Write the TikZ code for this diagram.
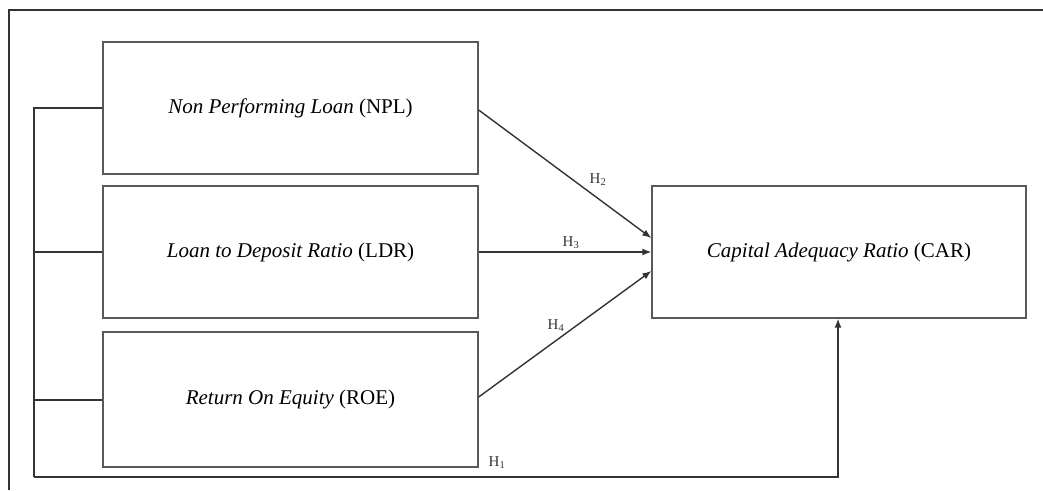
\documentclass[tikz,border=0pt]{standalone}
\usepackage{fontspec}
\setmainfont{Liberation Serif}
\usetikzlibrary{arrows.meta}
\begin{document}
\begin{tikzpicture}[x=1pt,y=-1pt,
  box/.style={draw=black!65,line width=1.3pt,rectangle,minimum width=375pt,minimum height=132pt,inner sep=0pt,font=\fontsize{21}{24}\selectfont},
  ln/.style={draw=black!80,line width=1.4pt},
  arr/.style={ln,-{Latex[length=9pt,width=7pt]}},
  hl/.style={font=\fontsize{15}{17}\selectfont,inner sep=1pt,text=black!80}]
\useasboundingbox (0,0) rectangle (1043,490);
\draw[ln] (9,490) -- (9,10) -- (1043,10);
\node[box] (npl) at (290.5,108) {\textit{Non Performing Loan} (NPL)};
\node[box] (ldr) at (290.5,252) {\textit{Loan to Deposit Ratio} (LDR)};
\node[box,minimum height=135pt] (roe) at (290.5,399.5) {\textit{Return On Equity} (ROE)};
\node[box,minimum width=374pt] (car) at (839,252) {\textit{Capital Adequacy Ratio} (CAR)};
\coordinate (bt) at (34,108);
\coordinate (bb) at (34,477);
\coordinate (br) at (838,477);
\draw[ln] (npl.west) -- (bt) -- (bb);
\draw[ln] (ldr.west) -- (34,252);
\draw[ln] (roe.west |- 0,400) -- (34,400);
\draw[arr] (bb) -- (br) -- (car.south -| br);
\draw[arr] (npl.east |- 0,110) -- (car.west |- 0,238);
\draw[arr] (ldr.east) -- (car.west);
\draw[arr] (roe.east |- 0,397) -- (car.west |- 0,271);
\node[hl] (h2) at (598,180) {H\textsubscript{2}};
\node[hl] (h3) at (571,243) {H\textsubscript{3}};
\node[hl] (h4) at (556,326) {H\textsubscript{4}};
\node[hl] (h1) at (497,463) {H\textsubscript{1}};
\end{tikzpicture}
\end{document}
